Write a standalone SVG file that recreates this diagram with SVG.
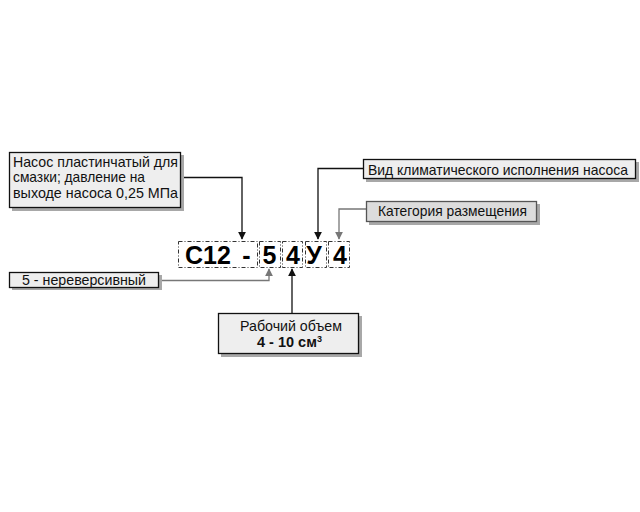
<svg xmlns="http://www.w3.org/2000/svg" width="640" height="512" viewBox="0 0 640 512">
<defs>
<style>
.box{fill:#eeeeee;stroke:#111;stroke-width:1.3}
.shadow{fill:#a8a8a8}
.t{font-family:"Liberation Sans",Arial,sans-serif;font-size:14.5px;fill:#111}
.code{font-family:"Liberation Sans",Arial,sans-serif;font-size:25px;font-weight:bold;fill:#000;text-anchor:middle}
.dash{fill:none;stroke:#333;stroke-width:1;stroke-dasharray:4,2,1,2}
.ln{fill:none;stroke:#111;stroke-width:1.3}
.lng{fill:none;stroke:#777;stroke-width:1.3}
</style>
<marker id="ab" viewBox="0 0 10 10" refX="9" refY="5" markerWidth="8" markerHeight="8" orient="auto-start-reverse" markerUnits="userSpaceOnUse"><path d="M0,0 L10,5 L0,10 z" fill="#111"/></marker>
<marker id="ag" viewBox="0 0 10 10" refX="9" refY="5" markerWidth="8" markerHeight="8" orient="auto-start-reverse" markerUnits="userSpaceOnUse"><path d="M0,0 L10,5 L0,10 z" fill="#777"/></marker>
</defs>
<rect width="640" height="512" fill="#fff"/>
<g id="connectors">
<path class="ln" d="M181,177.5 H242 V239" marker-end="url(#ab)"/>
<path class="ln" d="M363,168.5 H318 V239" marker-end="url(#ab)"/>
<path class="lng" d="M366,209 H339 V239" marker-end="url(#ag)"/>
<path class="lng" d="M159,280.5 H269 V269" marker-end="url(#ag)"/>
<path class="ln" d="M292,313 V269" marker-end="url(#ab)"/>
</g>
<g id="code">
<rect class="dash" x="178.5" y="241.5" width="79" height="26"/>
<rect class="dash" x="259.5" y="241.5" width="21" height="26"/>
<rect class="dash" x="282.5" y="241.5" width="20" height="26"/>
<rect class="dash" x="305.5" y="241.5" width="21" height="26"/>
<rect class="dash" x="328.5" y="241.5" width="21" height="26"/>
<text class="code" x="208" y="264">С12</text>
<text class="code" x="246.5" y="264">-</text>
<text class="code" x="269.5" y="264">5</text>
<text class="code" x="293" y="264">4</text>
<text class="code" x="314" y="264">У</text>
<text class="code" x="340" y="264">4</text>
</g>
<g id="n-pump">
<rect class="shadow" x="12" y="155" width="172" height="56"/>
<rect class="box" x="9.5" y="152.5" width="171" height="55"/>
<text class="t" x="13" y="167" textLength="165" lengthAdjust="spacingAndGlyphs">Насос пластинчатый  для</text>
<text class="t" x="13" y="182" textLength="132" lengthAdjust="spacingAndGlyphs">смазки; давление на</text>
<text class="t" x="13" y="198" textLength="165" lengthAdjust="spacingAndGlyphs">выходе насоса 0,25 МПа</text>
</g>
<g id="n-rev">
<rect class="shadow" x="12" y="275" width="150" height="15"/>
<rect class="box" x="9.5" y="272.5" width="149" height="15"/>
<text class="t" x="22" y="284.5" textLength="124" lengthAdjust="spacingAndGlyphs">5 - нереверсивный</text>
</g>
<g id="n-vol">
<rect class="shadow" x="221" y="316" width="141" height="41"/>
<rect class="box" x="218.5" y="313.5" width="140" height="40"/>
<text class="t" x="240" y="331" textLength="102" lengthAdjust="spacingAndGlyphs">Рабочий объем</text>
<text class="t" x="257" y="347" font-weight="bold" font-size="13.5">4 - 10 см<tspan font-size="9" dy="-5">3</tspan></text>
</g>
<g id="n-clim">
<rect class="shadow" x="366" y="162" width="273" height="20"/>
<rect class="box" x="363.5" y="159.5" width="272" height="19"/>
<text class="t" x="368" y="174.5" textLength="260" lengthAdjust="spacingAndGlyphs">Вид климатического исполнения насоса</text>
</g>
<g id="n-cat">
<rect class="shadow" x="369" y="204" width="171" height="21"/>
<rect x="366.5" y="201.5" width="170" height="20" fill="#dcdcdc" stroke="#555" stroke-width="1.3"/>
<text class="t" x="378" y="216" textLength="149" lengthAdjust="spacingAndGlyphs">Категория размещения</text>
</g>
</svg>
